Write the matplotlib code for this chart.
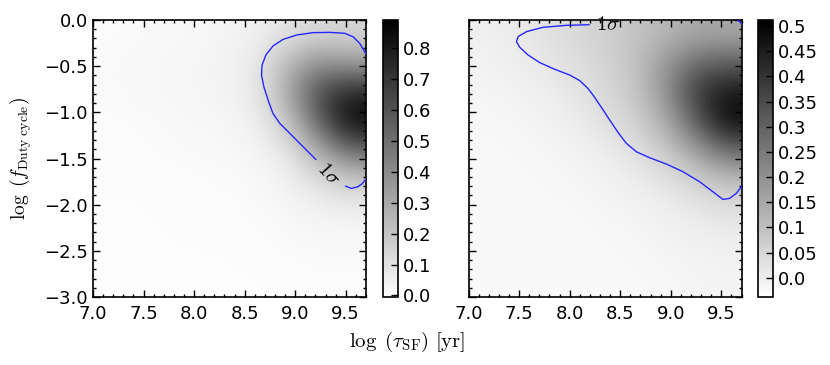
import numpy as np
import matplotlib
matplotlib.use("Agg")
import matplotlib.pyplot as plt
from matplotlib.ticker import MultipleLocator, FixedLocator, FixedFormatter

plt.rcParams['mathtext.fontset'] = 'cm'
plt.rcParams['font.size'] = 13

# grid cell centres (log tau_SF, log f_duty)
tau_centres = [7.15, 7.45, 7.75, 8.05, 8.35, 8.65, 8.95, 9.25, 9.55]
fduty_centres = [-0.15, -0.45, -0.75, -1.05, -1.35, -1.65, -1.95, -2.25, -2.55, -2.85]

# left panel density, one row per fduty centre
dens_left = [
    [0.010, 0.015, 0.020, 0.025, 0.035, 0.050, 0.100, 0.130, 0.140],
    [0.015, 0.020, 0.025, 0.030, 0.040, 0.080, 0.250, 0.380, 0.320],
    [0.015, 0.020, 0.025, 0.030, 0.040, 0.080, 0.320, 0.620, 0.720],
    [0.010, 0.015, 0.020, 0.025, 0.030, 0.060, 0.230, 0.600, 0.880],
    [0.010, 0.010, 0.015, 0.020, 0.025, 0.040, 0.110, 0.350, 0.600],
    [0.008, 0.008, 0.010, 0.012, 0.015, 0.025, 0.055, 0.150, 0.250],
    [0.005, 0.005, 0.008, 0.010, 0.010, 0.018, 0.035, 0.060, 0.080],
    [0.005, 0.005, 0.005, 0.008, 0.008, 0.012, 0.020, 0.030, 0.030],
    [0.005, 0.005, 0.005, 0.005, 0.005, 0.008, 0.012, 0.015, 0.015],
    [0.005, 0.005, 0.005, 0.005, 0.005, 0.005, 0.008, 0.010, 0.010],
]

# right panel density
dens_right = [
    [-0.005, 0.005, 0.025, 0.045, 0.065, 0.090, 0.120, 0.150, 0.150],
    [-0.010, 0.000, 0.015, 0.035, 0.055, 0.095, 0.180, 0.280, 0.300],
    [-0.015, -0.010, 0.000, 0.020, 0.045, 0.085, 0.200, 0.380, 0.450],
    [-0.020, -0.015, -0.010, 0.005, 0.030, 0.065, 0.150, 0.330, 0.500],
    [-0.022, -0.020, -0.015, -0.008, 0.010, 0.035, 0.090, 0.200, 0.330],
    [-0.025, -0.022, -0.020, -0.015, -0.008, 0.010, 0.035, 0.080, 0.140],
    [-0.025, -0.025, -0.022, -0.020, -0.015, -0.008, 0.005, 0.025, 0.045],
    [-0.025, -0.025, -0.025, -0.022, -0.020, -0.015, -0.008, 0.000, 0.010],
    [-0.025, -0.025, -0.025, -0.025, -0.022, -0.020, -0.015, -0.010, -0.008],
    [-0.025, -0.025, -0.025, -0.025, -0.025, -0.022, -0.020, -0.015, -0.012],
]

vrange_left = (-0.005, 0.89)
vrange_right = (-0.038, 0.512)

# 1 sigma contours
sig_left_a_x = [9.70, 9.688, 9.638, 9.572, 9.49, 9.342, 9.177, 9.013, 8.88, 8.78, 8.71, 8.673, 8.667,
                8.69, 8.732, 8.78, 8.848, 8.947, 9.045, 9.128, 9.204]
sig_left_a_y = [-0.37, -0.343, -0.253, -0.181, -0.144, -0.134, -0.137, -0.163, -0.21, -0.282, -0.379, -0.488, -0.596,
                -0.722, -0.867, -1.011, -1.12, -1.228, -1.336, -1.427, -1.51]
sig_left_b_x = [9.50, 9.556, 9.622, 9.665, 9.688, 9.70]
sig_left_b_y = [-1.80, -1.824, -1.805, -1.77, -1.74, -1.72]
sig_left_label = (9.34, -1.66, -48)

sig_right_a_x = [8.192, 7.968, 7.737, 7.573, 7.49, 7.474, 7.507, 7.589, 7.705, 7.853, 8.001, 8.10, 8.18,
                 8.231, 8.314, 8.396, 8.478, 8.561, 8.660, 8.792, 8.957, 9.121, 9.286, 9.417, 9.516,
                 9.582, 9.648, 9.698]
sig_right_a_y = [-0.051, -0.058, -0.079, -0.126, -0.18, -0.235, -0.296, -0.379, -0.462, -0.534, -0.596, -0.657, -0.74,
                 -0.813, -0.946, -1.083, -1.217, -1.336, -1.427, -1.492, -1.56, -1.643, -1.752, -1.86, -1.943,
                 -1.932, -1.878, -1.806]
sig_right_b_x = [9.665, 9.685, 9.70]
sig_right_b_y = [-0.003, -0.02, -0.04]
sig_right_label = (8.38, -0.045, 0)

left_cb_ticks = [0.0, 0.1, 0.2, 0.3, 0.4, 0.5, 0.6, 0.7, 0.8]
left_cb_labels = ['0.0', '0.1', '0.2', '0.3', '0.4', '0.5', '0.6', '0.7', '0.8']
right_cb_ticks = [0.0, 0.05, 0.1, 0.15, 0.2, 0.25, 0.3, 0.35, 0.4, 0.45, 0.5]
right_cb_labels = ['0.0', '0.05', '0.1', '0.15', '0.2', '0.25', '0.3', '0.35', '0.4', '0.45', '0.5']

xlim = (7.0, 9.7)
ylim = (-3.0, 0.0)
line_col = '#2626ff'

fig = plt.figure(figsize=(8.3, 3.65), dpi=100)
ax1 = fig.add_axes([0.1120, 0.1863, 0.3289, 0.7589])
cax1 = fig.add_axes([0.4614, 0.1863, 0.0181, 0.7589])
ax2 = fig.add_axes([0.5645, 0.1863, 0.3289, 0.7589])
cax2 = fig.add_axes([0.9133, 0.1863, 0.0181, 0.7589])


def panel(ax, cax, dens, vr, segs, lab, ticks, labels):
    im = ax.imshow(np.array(dens), cmap='gray_r', vmin=vr[0], vmax=vr[1],
                   extent=(xlim[0], xlim[1], ylim[0], ylim[1]),
                   origin='upper', aspect='auto', interpolation='bicubic')
    for sx, sy in segs:
        ax.plot(sx, sy, color=line_col, lw=1.0, zorder=3)
    ax.text(lab[0], lab[1], r'$1\sigma$', rotation=lab[2], ha='center', va='center',
            fontsize=15, zorder=2, clip_on=False)
    ax.set_xlim(xlim)
    ax.set_ylim(ylim)
    ax.xaxis.set_major_locator(MultipleLocator(0.5))
    ax.xaxis.set_minor_locator(MultipleLocator(0.1))
    ax.yaxis.set_major_locator(MultipleLocator(0.5))
    ax.yaxis.set_minor_locator(MultipleLocator(0.1))
    ax.tick_params(which='both', direction='in', top=True, right=True, labelsize=13, width=1)
    ax.tick_params(which='major', length=5)
    ax.tick_params(which='minor', length=2.5)
    ax.tick_params(axis='x', pad=6)
    for s in ax.spines.values():
        s.set_linewidth(1.2)
    cb = fig.colorbar(im, cax=cax)
    cb.outline.set_linewidth(1.2)
    cax.yaxis.set_major_locator(FixedLocator(ticks))
    cax.yaxis.set_major_formatter(FixedFormatter(labels))
    cax.tick_params(direction='in', length=5, width=1, labelsize=13, right=True, left=False)
    cax.minorticks_off()
    return im


panel(ax1, cax1, dens_left, vrange_left,
      [(sig_left_a_x, sig_left_a_y), (sig_left_b_x, sig_left_b_y)],
      sig_left_label, left_cb_ticks, left_cb_labels)
panel(ax2, cax2, dens_right, vrange_right,
      [(sig_right_a_x, sig_right_a_y), (sig_right_b_x, sig_right_b_y)],
      sig_right_label, right_cb_ticks, right_cb_labels)
ax2.tick_params(labelleft=False)

ax1.set_ylabel(r'$\log\ (f_{\rm Duty\ cycle})$', fontsize=14)
ax1.yaxis.set_label_coords(-0.215, 0.5)
fig.text(0.49, 0.064, r'$\log\ (\tau_{\rm SF})\ [{\rm yr}]$', ha='center', va='center', fontsize=15)

fig.savefig('out.png', dpi=100)
